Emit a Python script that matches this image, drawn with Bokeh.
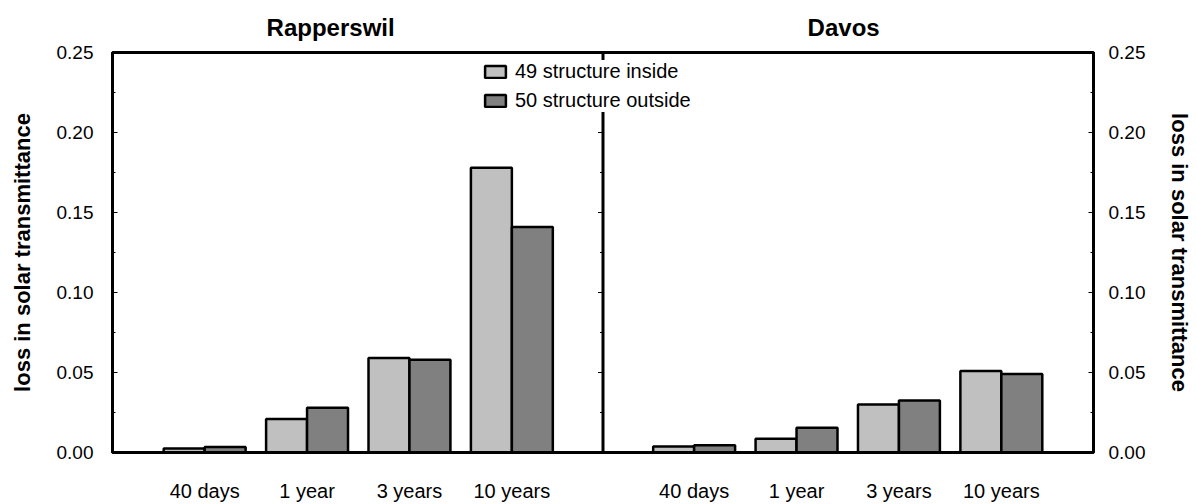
import math

from bokeh.embed import file_html
from bokeh.models import (ColumnDataSource, FixedTicker, Legend, LegendItem, LinearAxis,
                          PrintfTickFormatter, Range1d, Span)
from bokeh.plotting import figure
from bokeh.resources import INLINE
from bokeh.transform import dodge

# ---- data -------------------------------------------------------------
sites = ["Rapperswil", "Davos"]
periods = ["40 days", "1 year", "3 years", "10 years"]
series_names = ["49 structure inside", "50 structure outside"]

inside_rapperswil = [0.0025, 0.021, 0.059, 0.178]
outside_rapperswil = [0.0035, 0.028, 0.058, 0.141]
inside_davos = [0.0037, 0.0086, 0.030, 0.051]
outside_davos = [0.0045, 0.0154, 0.0325, 0.049]

y_ticks = [0.0, 0.05, 0.10, 0.15, 0.20, 0.25]
y_minor_ticks = [0.025, 0.075, 0.125, 0.175, 0.225]
y_label = "loss in solar transmittance"

# ---- layout & styling -------------------------------------------------
FONT = "Liberation Sans"
LIGHT = "#C0C0C0"
DARK = "#808080"
GROUP_STEP = 100          # x distance between neighbouring periods
SITE_GAP = 78             # extra space between the two sites
BAR_W = 40
X_START, X_END = -90, 868
TITLE_POS = [123, 624]    # x positions of the site titles

n = len(periods)
x_rapperswil = [i * GROUP_STEP for i in range(n)]
x_davos = [x_rapperswil[-1] + GROUP_STEP + SITE_GAP + i * GROUP_STEP for i in range(n)]
x_all = x_rapperswil + x_davos
divider = x_rapperswil[-1] + (GROUP_STEP + SITE_GAP) / 2

source = ColumnDataSource(dict(
    x=x_all,
    inside=inside_rapperswil + inside_davos,
    outside=outside_rapperswil + outside_davos,
))

p = figure(width=1197, height=504, x_range=Range1d(X_START, X_END), y_range=Range1d(0, 0.25),
           output_backend="svg", toolbar_location=None,
           min_border_left=112, min_border_right=104,
           min_border_top=52, min_border_bottom=46)
p.xgrid.visible = False
p.ygrid.visible = False
p.outline_line_color = "black"
p.outline_line_width = 3
p.background_fill_color = "white"
p.border_fill_color = "white"

# bars
r_in = p.vbar(x=dodge("x", -BAR_W / 2), top="inside", width=BAR_W,
              source=source, fill_color=LIGHT, line_color="black", line_width=2.5)
r_out = p.vbar(x=dodge("x", BAR_W / 2), top="outside", width=BAR_W,
               source=source, fill_color=DARK, line_color="black", line_width=2.5)

# bottom axis: period labels under each pair of bars
xa = p.xaxis[0]
xa.ticker = FixedTicker(ticks=x_all, minor_ticks=[])
xa.major_label_overrides = {x: lab for x, lab in zip(x_all, periods * len(sites))}
xa.axis_line_width = 3
xa.axis_line_color = "black"
xa.major_tick_line_color = None
xa.minor_tick_line_color = None
xa.major_label_text_font = FONT
xa.major_label_text_font_size = "20px"
xa.major_label_text_color = "black"
xa.major_label_standoff = 21

# site titles above each panel
ta = LinearAxis(ticker=FixedTicker(ticks=TITLE_POS, minor_ticks=[]),
                major_label_overrides={pos: name for pos, name in zip(TITLE_POS, sites)})
ta.axis_line_color = None
ta.major_tick_line_color = None
ta.minor_tick_line_color = None
ta.major_label_text_font = FONT
ta.major_label_text_font_size = "24px"
ta.major_label_text_font_style = "bold"
ta.major_label_text_color = "black"
ta.major_label_standoff = 6
p.add_layout(ta, "above")


def style_value_axis(ax):
    ax.ticker = FixedTicker(ticks=y_ticks, minor_ticks=y_minor_ticks)
    ax.formatter = PrintfTickFormatter(format="%.2f")
    ax.axis_line_width = 3
    ax.axis_line_color = "black"
    ax.major_tick_in = 5
    ax.major_tick_out = 0
    ax.minor_tick_in = 3
    ax.minor_tick_out = 0
    ax.major_tick_line_color = "black"
    ax.minor_tick_line_color = "black"
    ax.major_tick_line_width = 1
    ax.minor_tick_line_width = 1
    ax.major_label_text_font = FONT
    ax.major_label_text_font_size = "19px"
    ax.major_label_text_color = "black"
    ax.axis_label = y_label
    ax.axis_label_text_font = FONT
    ax.axis_label_text_font_size = "22px"
    ax.axis_label_text_font_style = "bold"
    ax.axis_label_text_color = "black"
    ax.axis_label_standoff = 19


ya = p.yaxis[0]
style_value_axis(ya)
ya.major_label_standoff = 19

yr = LinearAxis()
style_value_axis(yr)
yr.major_label_standoff = 15
p.add_layout(yr, "right")

# divider between the two sites, with inward ticks on its left side
p.add_layout(Span(location=divider, dimension="height", line_color="black",
                  line_width=3, level="underlay"))
p.ray(x=[divider] * len(y_ticks), y=y_ticks, length=5, length_units="screen",
      angle=math.pi, line_color="black", line_width=1)
p.ray(x=[divider] * len(y_minor_ticks), y=y_minor_ticks, length=3, length_units="screen",
      angle=math.pi, line_color="black", line_width=1)

legend = Legend(items=[LegendItem(label=series_names[0], renderers=[r_in]),
                       LegendItem(label=series_names[1], renderers=[r_out])],
                location=(370, 340), orientation="vertical",
                glyph_width=26, glyph_height=15, label_standoff=7,
                label_height=20, spacing=6, padding=8, margin=0,
                label_text_font=FONT, label_text_font_size="20px",
                label_text_color="black",
                border_line_color=None, background_fill_color="white",
                background_fill_alpha=1.0)
p.add_layout(legend, "center")

open("out.html", "w").write(file_html(p, INLINE))
